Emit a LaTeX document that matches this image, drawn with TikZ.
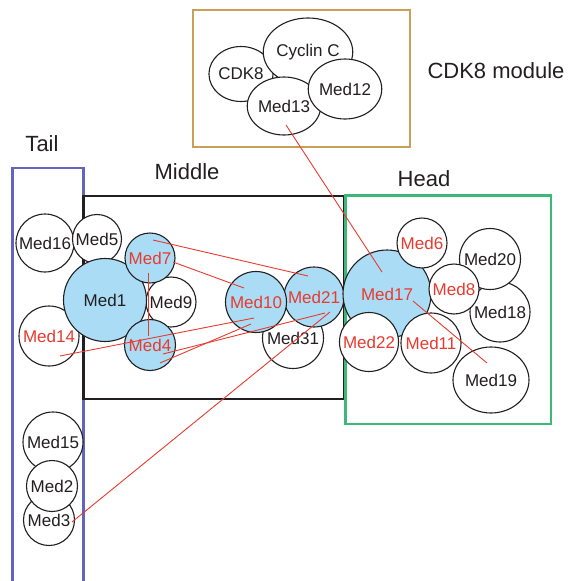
\documentclass[tikz,border=0pt]{standalone}
\usepackage{fontspec}
\setmainfont{Liberation Sans}
\usetikzlibrary{shapes.geometric,calc}

\definecolor{medblue}{RGB}{170,221,245}
\definecolor{medred}{RGB}{232,58,46}
\definecolor{tailblue}{RGB}{100,100,190}
\definecolor{headgreen}{RGB}{60,185,120}
\definecolor{cdkbrown}{RGB}{200,160,90}
\definecolor{ink}{RGB}{35,31,32}

\begin{document}
\begin{tikzpicture}[x=1pt,y=-1pt,
  sub/.style={circle,draw=ink,line width=1.1pt,fill=white,inner sep=0pt,
    text=ink,font=\fontsize{17}{17}\selectfont,minimum size=#1},
  sub/.default=50pt,
  core/.style={fill=medblue},
  hit/.style={text=medred},
  oval/.style={ellipse,draw=ink,line width=1.1pt,fill=white,inner sep=0pt,
    text=ink,font=\fontsize{17}{17}\selectfont},
  part/.style={text=ink,font=\fontsize{22}{22}\selectfont},
  link/.style={draw=medred,line width=0.9pt},
  frame/.style={draw=#1,line width=2.3pt}]
\useasboundingbox (0,0) rectangle (569,581);

\draw[frame=tailblue] (12.5,582) -- (12.5,168) -- (83.5,168) -- (83.5,582);
\draw[frame=ink] (83.5,196) rectangle (344,399);
\draw[frame=headgreen] (345.5,195.5) rectangle (551,424);
\draw[frame=cdkbrown] (193,10) rectangle (410,147);

\node[part] (tail) at (42,144) {Tail};
\node[part] (middle) at (187,172) {Middle};
\node[part] (head) at (424,179) {Head};
\node[part] (cdk) at (496,71) {CDK8 module};

% CDK8 module
\node[oval,minimum width=54pt,minimum height=55pt] (cdk8) at (241,74) {\raisebox{-2pt}{CDK8}};
\node[oval,minimum width=86pt,minimum height=68pt] (cycc) at (308,52) {\raisebox{-6pt}{Cyclin C}};
\node[oval,minimum width=72pt,minimum height=58pt] (med13) at (284,106) {Med13};
\node[oval,minimum width=68pt,minimum height=60pt] (med12) at (345,89) {\raisebox{-7pt}{Med12}};

% tail
\node[sub=58pt] (med16) at (45,243) {Med16};
\node[sub=49pt] (med5) at (97,239) {Med5};
\node[sub=60pt,hit] (med14) at (49,336) {Med14};
\node[sub=60pt] (med15) at (53,442) {Med15};
\node[sub=51pt] (med3) at (49,520) {Med3};
\node[sub=51pt] (med2) at (52,486) {Med2};

% middle
\node[sub=50pt] (med9) at (171,302) {Med9};
\node[sub=83pt,core] (med1) at (105,300) {Med1};
\node[sub=50pt,core,hit] (med7) at (150,258) {Med7};
\node[sub=51pt,core,hit] (med4) at (150,345) {Med4};
\node[sub=61pt] (med31) at (293,338) {Med31};
\node[sub=60pt,core,hit] (med21) at (314,297) {Med21};
\node[sub=61pt,core,hit] (med10) at (256,302) {Med10};

% head
\node[sub=88pt,core,hit] (med17) at (387,294) {Med17};
\node[sub=50pt,hit] (med6) at (422,243) {Med6};
\node[sub=59pt,hit] (med22) at (369,342) {Med22};
\node[sub=60pt,hit] (med11) at (431,343) {Med11};
\node[sub=60pt] (med18) at (500,312) {Med18};
\node[sub=61pt] (med20) at (490,259) {Med20};
\node[sub=50pt,hit] (med8) at (454,289) {Med8};
\node[oval,minimum width=76pt,minimum height=66pt] (med19) at (491,380) {Med19};

\draw[link] ($(med7)+(3,-18)$) -- ($(med21)+(-6,-21)$);
\draw[link] ($(med7)+(23,4)$) -- ($(med10)+(-12,-14)$);
\draw[link] ($(med7)+(-2,15)$) -- ($(med4)+(-2,-9)$);
\draw[link] ($(med14)+(11,20)$) -- ($(med10)+(-2,16)$);
\draw[link] ($(med4)+(13,9)$) -- ($(med21)+(11,16)$);
\draw[link] ($(med4)+(10,18)$) -- ($(med10)+(-5,22)$);
\draw[link] ($(med21)+(16,15)$) -- ($(med3)+(23,2)$);
\draw[link] ($(med13)+(2,19)$) -- ($(med17)+(-5,-22)$);
\draw[link] ($(med17)+(26,7)$) -- ($(med19)+(-4,-17)$);
\end{tikzpicture}
\end{document}
